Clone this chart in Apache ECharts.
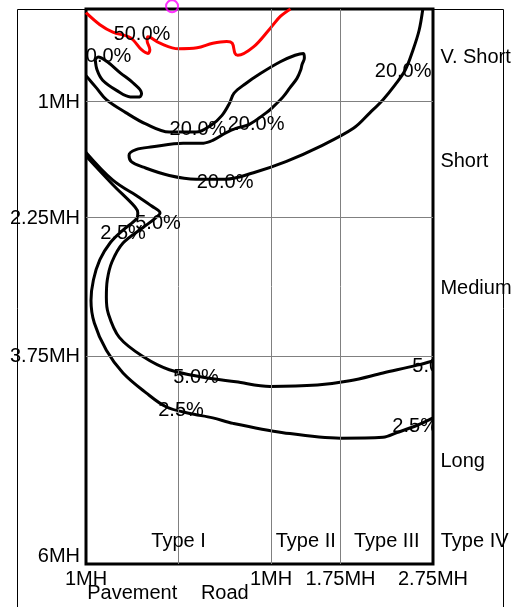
<!DOCTYPE html>
<html>
<head>
<meta charset="utf-8">
<script src="https://cdn.jsdelivr.net/npm/echarts@6/dist/echarts.min.js"></script>
<style>
html,body{margin:0;padding:0;background:#fff;}
#chart{width:512px;height:607px;}
</style>
</head>
<body>
<div id="chart"></div>
<script>
// Axis ticks (in mounting heights, MH)
const xTickValues = [-1, 1, 1.75, 2.75];
const xTickLabels = ['1MH', '1MH', '1.75MH', '2.75MH'];
const yTickValues = [1, 2.25, 3.75, 6];
const yTickLabels = ['1MH', '2.25MH', '3.75MH', '6MH'];
const gridX = [0, 1, 1.75];
const gridY = [1, 2.25, 3.75];

// Region names
const rangeNames = ['V. Short', 'Short', 'Medium', 'Long'];
const rangeY = [0.5, 1.625, 3.0, 4.875];
const typeNames = ['Type I', 'Type II', 'Type III', 'Type IV'];
const typeX = [0, 1.375, 2.25, 3.2];
const sideNames = ['Pavement', 'Road'];
const sideX = [-0.5, 0.5];

// Luminaire position
const pole = [[-0.07, -0.03]];

// Iso-candela contours
const contour50 = [[-1.0,0.04],[-0.85,0.17],[-0.71,0.25],[-0.52,0.31],[-0.40,0.44],[-0.33,0.48],[-0.31,0.44],[-0.34,0.34],[-0.33,0.30],[-0.20,0.37],[0.0,0.43],[0.20,0.42],[0.37,0.37],[0.52,0.35],[0.58,0.37],[0.61,0.48],[0.64,0.50],[0.81,0.41],[0.99,0.21],[1.10,0.08],[1.21,0.0]];
const contour20a = [[-0.90,0.55],[-0.87,0.52],[-0.77,0.57],[-0.63,0.69],[-0.49,0.80],[-0.40,0.91],[-0.42,0.95],[-0.52,0.95],[-0.67,0.88],[-0.82,0.77],[-0.88,0.66],[-0.90,0.55]];
const contour20b = [[-1.0,0.72],[-0.89,0.85],[-0.78,0.98],[-0.57,1.12],[-0.36,1.24],[-0.10,1.33],[0.19,1.33],[0.36,1.25],[0.47,1.15],[0.55,1.02],[0.60,0.91],[0.72,0.81],[0.88,0.70],[1.10,0.57],[1.26,0.50],[1.35,0.48],[1.36,0.53],[1.335,0.60],[1.32,0.66],[1.28,0.75],[1.205,0.85],[1.13,0.95],[1.02,1.06],[0.95,1.12],[0.76,1.25],[0.62,1.29],[0.51,1.34],[0.37,1.42],[0.27,1.45],[0.05,1.45],[-0.28,1.49],[-0.46,1.52],[-0.535,1.58],[-0.51,1.65],[-0.38,1.71],[-0.10,1.80],[0.19,1.84],[0.51,1.84],[0.81,1.77],[1.16,1.65],[1.52,1.49],[1.89,1.29],[2.07,1.12],[2.21,0.98],[2.34,0.82],[2.45,0.66],[2.535,0.44],[2.60,0.23],[2.64,0.0]];
const contour5 = [[-1.0,1.55],[-0.71,1.85],[-0.42,2.04],[-0.29,2.13],[-0.20,2.205],[-0.25,2.26],[-0.38,2.36],[-0.60,2.53],[-0.72,2.735],[-0.77,2.93],[-0.78,3.12],[-0.76,3.29],[-0.64,3.55],[-0.38,3.76],[-0.10,3.90],[0.265,3.98],[0.62,4.03],[0.99,4.08],[1.50,4.065],[1.85,4.02],[2.21,3.935],[2.58,3.85],[2.75,3.805]];
const contour25 = [[-1.0,1.59],[-0.71,1.90],[-0.47,2.14],[-0.44,2.205],[-0.45,2.26],[-0.60,2.39],[-0.74,2.53],[-0.85,2.71],[-0.92,2.93],[-0.946,3.15],[-0.91,3.395],[-0.78,3.69],[-0.60,3.935],[-0.35,4.15],[-0.135,4.30],[0.11,4.37],[0.37,4.42],[0.59,4.48],[1.13,4.58],[1.75,4.64],[2.21,4.63],[2.36,4.58],[2.58,4.50],[2.75,4.42]];

// Contour value labels
const contourLabelText = ['50.0%','20.0%','20.0%','20.0%','20.0%','20.0%','5.0%','2.5%','5.0%','2.5%','5.0%','2.5%'];
const contourLabelX = [-0.395,-0.816,0.21,0.838,0.503,2.427,-0.222,-0.60,0.189,0.027,2.773,2.557];
const contourLabelY = [0.259,0.497,1.286,1.222,1.849,0.659,2.292,2.40,3.957,4.324,3.838,4.497];

const FAMILY = '"Liberation Sans", Arial, sans-serif';
const FONT = '20px ' + FAMILY;

function pairs(xs, ys) { return xs.map((x, i) => [x, ys[i]]); }

const chart = echarts.init(document.getElementById('chart'), null, {renderer: 'canvas'});

function contourSeries(data, color) {
  return {
    type: 'line', data: data, showSymbol: false, symbol: 'none', smooth: 0.35,
    lineStyle: {color: color, width: 3}, z: 3, silent: true, clip: true
  };
}

function textSeries(xs, ys, texts, align, clip) {
  return {
    type: 'custom', clip: clip, z: 6, silent: true,
    data: pairs(xs, ys),
    renderItem: function (params, api) {
      const p = api.coord([api.value(0), api.value(1)]);
      return {
        type: 'text', x: p[0], y: p[1] + 2,
        style: {text: texts[params.dataIndex], font: FONT, fill: '#000', align: align, verticalAlign: 'middle'}
      };
    }
  };
}

chart.setOption({
  animation: false,
  backgroundColor: '#fff',
  graphic: [{
    type: 'rect', shape: {x: 17.5, y: 9.5, width: 486, height: 700},
    style: {fill: 'none', stroke: '#000', lineWidth: 1}, z: -1, silent: true
  }],
  grid: {left: 86, top: 9, width: 347, height: 555, show: true, borderColor: '#000', borderWidth: 3, backgroundColor: 'transparent'},
  xAxis: {
    type: 'value', min: -1, max: 2.75, interval: 0.25,
    axisLine: {show: false}, axisTick: {show: false}, splitLine: {show: false},
    axisLabel: {
      margin: 5, color: '#000', fontSize: 20, fontFamily: FAMILY,
      formatter: function (v) {
        for (let i = 0; i < xTickValues.length; i++) if (Math.abs(v - xTickValues[i]) < 1e-6) return xTickLabels[i];
        return '';
      }
    }
  },
  yAxis: {
    type: 'value', min: 0, max: 6, interval: 0.25, inverse: true,
    axisLine: {show: false}, axisTick: {show: false}, splitLine: {show: false},
    axisLabel: {
      margin: 6, color: '#000', fontSize: 20, fontFamily: FAMILY,
      formatter: function (v) {
        for (let i = 0; i < yTickValues.length; i++) if (Math.abs(v - yTickValues[i]) < 1e-6) {
          return i === yTickValues.length - 1 ? '{up|' + yTickLabels[i] + '}' : '{n|' + yTickLabels[i] + '}';
        }
        return '';
      },
      rich: {
        up: {fontSize: 20, fontFamily: FAMILY, color: '#000', padding: [0, 0, 16, 0]},
        n: {fontSize: 20, fontFamily: FAMILY, color: '#000', padding: [2, 0, 0, 0]}
      }
    }
  },
  series: [
    {
      type: 'line', data: [], z: 1, silent: true,
      markLine: {
        silent: true, symbol: 'none', animation: false,
        label: {show: false},
        lineStyle: {color: '#808080', width: 1, type: 'solid'},
        data: gridX.map(v => ({xAxis: v})).concat(gridY.map(v => ({yAxis: v})))
      }
    },
    contourSeries(contour50, '#ff0000'),
    contourSeries(contour20a, '#000'),
    contourSeries(contour20b, '#000'),
    contourSeries(contour5, '#000'),
    contourSeries(contour25, '#000'),
    textSeries(contourLabelX, contourLabelY, contourLabelText, 'center', true),
    textSeries(rangeNames.map(() => 2.83), rangeY, rangeNames, 'left', false),
    textSeries(typeX, typeNames.map(() => 5.74), typeNames, 'center', false),
    textSeries(sideX, sideNames.map(() => 6.3), sideNames, 'center', false),
    {
      type: 'scatter', data: pole, symbol: 'circle', symbolSize: 12, clip: false, z: 8, silent: true,
      itemStyle: {color: 'rgba(255,255,255,0)', borderColor: '#ff00ff', borderWidth: 2}
    }
  ]
});
</script>
</body>
</html>
